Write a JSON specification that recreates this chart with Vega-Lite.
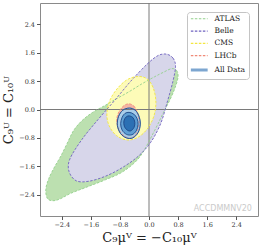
{
  "$schema": "https://vega.github.io/schema/vega-lite/v6.json",
  "width": 218,
  "height": 213,
  "autosize": {"type": "none"},
  "padding": {"left": 40, "top": 3, "right": 4, "bottom": 34},
  "background": "white",
  "config": {
    "view": {"stroke": "#8a8a8a", "strokeWidth": 1},
    "axis": {"grid": false, "domain": false, "tickColor": "#555", "tickSize": 3.5, "labelFont": "DejaVu Serif", "labelFontSize": 6.5, "labelColor": "#333", "labelPadding": 2, "labelOverlap": false, "titleFont": "DejaVu Serif", "titleFontSize": 13, "titleFontWeight": "normal", "titleColor": "#222", "titlePadding": 3},
    "legend": {"orient": "top-right", "offset": 9, "padding": 3, "fillColor": "white", "strokeColor": "#c4c4c4", "cornerRadius": 3, "labelFont": "DejaVu Serif", "labelFontSize": 7.5, "labelColor": "#222", "symbolType": "M-2.4,0H2.4", "symbolSize": 49, "symbolStrokeWidth": 1.2, "symbolOffset": 5.5, "rowPadding": 3.3, "labelOffset": 11.5}
  },
  "data": {"values": [
    {"g": "ATLAS", "i": 0, "x": 0.62, "y": 1.15},
    {"g": "ATLAS", "i": 1, "x": 0.76, "y": 1.1},
    {"g": "ATLAS", "i": 2, "x": 0.8, "y": 0.92},
    {"g": "ATLAS", "i": 3, "x": 0.72, "y": 0.62},
    {"g": "ATLAS", "i": 4, "x": 0.58, "y": 0.28},
    {"g": "ATLAS", "i": 5, "x": 0.4, "y": -0.08},
    {"g": "ATLAS", "i": 6, "x": 0.15, "y": -0.6},
    {"g": "ATLAS", "i": 7, "x": -0.25, "y": -1.33},
    {"g": "ATLAS", "i": 8, "x": -0.7, "y": -1.74},
    {"g": "ATLAS", "i": 9, "x": -1.2, "y": -1.98},
    {"g": "ATLAS", "i": 10, "x": -1.7, "y": -2.18},
    {"g": "ATLAS", "i": 11, "x": -2.15, "y": -2.36},
    {"g": "ATLAS", "i": 12, "x": -2.45, "y": -2.52},
    {"g": "ATLAS", "i": 13, "x": -2.65, "y": -2.57},
    {"g": "ATLAS", "i": 14, "x": -2.8, "y": -2.5},
    {"g": "ATLAS", "i": 15, "x": -2.84, "y": -2.25},
    {"g": "ATLAS", "i": 16, "x": -2.76, "y": -1.95},
    {"g": "ATLAS", "i": 17, "x": -2.6, "y": -1.62},
    {"g": "ATLAS", "i": 18, "x": -2.42, "y": -1.3},
    {"g": "ATLAS", "i": 19, "x": -2.25, "y": -0.95},
    {"g": "ATLAS", "i": 20, "x": -2.08, "y": -0.6},
    {"g": "ATLAS", "i": 21, "x": -1.85, "y": -0.32},
    {"g": "ATLAS", "i": 22, "x": -1.55, "y": -0.08},
    {"g": "ATLAS", "i": 23, "x": -1.2, "y": 0.12},
    {"g": "ATLAS", "i": 24, "x": -0.9, "y": 0.3},
    {"g": "ATLAS", "i": 25, "x": -0.55, "y": 0.5},
    {"g": "ATLAS", "i": 26, "x": -0.2, "y": 0.72},
    {"g": "ATLAS", "i": 27, "x": 0.15, "y": 0.92},
    {"g": "ATLAS", "i": 28, "x": 0.4, "y": 1.05},
    {"g": "Belle", "i": 0, "x": 0.48, "y": 1.56},
    {"g": "Belle", "i": 1, "x": 0.66, "y": 1.45},
    {"g": "Belle", "i": 2, "x": 0.73, "y": 1.22},
    {"g": "Belle", "i": 3, "x": 0.66, "y": 0.8},
    {"g": "Belle", "i": 4, "x": 0.5, "y": 0.2},
    {"g": "Belle", "i": 5, "x": 0.32, "y": -0.4},
    {"g": "Belle", "i": 6, "x": 0.05, "y": -0.92},
    {"g": "Belle", "i": 7, "x": -0.3, "y": -1.32},
    {"g": "Belle", "i": 8, "x": -0.74, "y": -1.64},
    {"g": "Belle", "i": 9, "x": -1.2, "y": -1.88},
    {"g": "Belle", "i": 10, "x": -1.65, "y": -2.02},
    {"g": "Belle", "i": 11, "x": -2.0, "y": -2.01},
    {"g": "Belle", "i": 12, "x": -2.2, "y": -1.75},
    {"g": "Belle", "i": 13, "x": -2.18, "y": -1.4},
    {"g": "Belle", "i": 14, "x": -1.85, "y": -0.85},
    {"g": "Belle", "i": 15, "x": -1.4, "y": -0.28},
    {"g": "Belle", "i": 16, "x": -0.95, "y": 0.25},
    {"g": "Belle", "i": 17, "x": -0.5, "y": 0.8},
    {"g": "Belle", "i": 18, "x": -0.05, "y": 1.28},
    {"g": "Belle", "i": 19, "x": 0.25, "y": 1.52},
    {"g": "CMS", "i": 0, "x": -0.3, "y": 0.93},
    {"g": "CMS", "i": 1, "x": -0.05, "y": 0.86},
    {"g": "CMS", "i": 2, "x": 0.12, "y": 0.6},
    {"g": "CMS", "i": 3, "x": 0.19, "y": 0.2},
    {"g": "CMS", "i": 4, "x": 0.13, "y": -0.2},
    {"g": "CMS", "i": 5, "x": -0.05, "y": -0.55},
    {"g": "CMS", "i": 6, "x": -0.3, "y": -0.78},
    {"g": "CMS", "i": 7, "x": -0.6, "y": -0.86},
    {"g": "CMS", "i": 8, "x": -0.9, "y": -0.73},
    {"g": "CMS", "i": 9, "x": -1.1, "y": -0.45},
    {"g": "CMS", "i": 10, "x": -1.16, "y": -0.12},
    {"g": "CMS", "i": 11, "x": -1.08, "y": 0.25},
    {"g": "CMS", "i": 12, "x": -0.88, "y": 0.58},
    {"g": "CMS", "i": 13, "x": -0.6, "y": 0.84},
    {"g": "LHCb", "i": 0, "x": -0.56, "y": 0.16},
    {"g": "LHCb", "i": 1, "x": -0.42, "y": 0.1},
    {"g": "LHCb", "i": 2, "x": -0.32, "y": -0.08},
    {"g": "LHCb", "i": 3, "x": -0.27, "y": -0.35},
    {"g": "LHCb", "i": 4, "x": -0.32, "y": -0.62},
    {"g": "LHCb", "i": 5, "x": -0.48, "y": -0.8},
    {"g": "LHCb", "i": 6, "x": -0.66, "y": -0.76},
    {"g": "LHCb", "i": 7, "x": -0.82, "y": -0.58},
    {"g": "LHCb", "i": 8, "x": -0.89, "y": -0.3},
    {"g": "LHCb", "i": 9, "x": -0.82, "y": -0.05},
    {"g": "LHCb", "i": 10, "x": -0.7, "y": 0.1},
    {"g": "All Data", "i": 0, "x": -0.54, "y": 0.04},
    {"g": "All Data", "i": 1, "x": -0.38, "y": -0.02},
    {"g": "All Data", "i": 2, "x": -0.28, "y": -0.18},
    {"g": "All Data", "i": 3, "x": -0.24, "y": -0.41},
    {"g": "All Data", "i": 4, "x": -0.3, "y": -0.65},
    {"g": "All Data", "i": 5, "x": -0.45, "y": -0.8},
    {"g": "All Data", "i": 6, "x": -0.62, "y": -0.8},
    {"g": "All Data", "i": 7, "x": -0.78, "y": -0.68},
    {"g": "All Data", "i": 8, "x": -0.87, "y": -0.45},
    {"g": "All Data", "i": 9, "x": -0.84, "y": -0.2},
    {"g": "All Data", "i": 10, "x": -0.72, "y": -0.02},
    {"g": "AD2", "i": 0, "x": -0.55, "y": -0.08},
    {"g": "AD2", "i": 1, "x": -0.42, "y": -0.13},
    {"g": "AD2", "i": 2, "x": -0.33, "y": -0.25},
    {"g": "AD2", "i": 3, "x": -0.3, "y": -0.42},
    {"g": "AD2", "i": 4, "x": -0.35, "y": -0.6},
    {"g": "AD2", "i": 5, "x": -0.47, "y": -0.71},
    {"g": "AD2", "i": 6, "x": -0.62, "y": -0.7},
    {"g": "AD2", "i": 7, "x": -0.74, "y": -0.58},
    {"g": "AD2", "i": 8, "x": -0.78, "y": -0.4},
    {"g": "AD2", "i": 9, "x": -0.74, "y": -0.22},
    {"g": "AD2", "i": 10, "x": -0.66, "y": -0.11},
    {"g": "AD3", "i": 0, "x": -0.54, "y": -0.18},
    {"g": "AD3", "i": 1, "x": -0.44, "y": -0.23},
    {"g": "AD3", "i": 2, "x": -0.39, "y": -0.36},
    {"g": "AD3", "i": 3, "x": -0.41, "y": -0.5},
    {"g": "AD3", "i": 4, "x": -0.5, "y": -0.6},
    {"g": "AD3", "i": 5, "x": -0.6, "y": -0.58},
    {"g": "AD3", "i": 6, "x": -0.68, "y": -0.47},
    {"g": "AD3", "i": 7, "x": -0.69, "y": -0.32},
    {"g": "AD3", "i": 8, "x": -0.63, "y": -0.21}
  ]},
  "layer": [
    {
      "transform": [{"filter": "datum.g === 'ATLAS'"}],
      "mark": {"type": "line", "interpolate": "cardinal-closed", "fill": "#bce0b0", "strokeWidth": 0},
      "encoding": {
        "x": {"field": "x", "type": "quantitative", "scale": {"domain": [-3, 3], "nice": false, "zero": false},
              "axis": {"values": [-2.4, -1.6, -0.8, 0, 0.8, 1.6, 2.4], "tickCount": 20, "format": ".1f", "title": "C₉μⱽ = −C₁₀μⱽ", "labelOverlap": false, "labelBound": false, "labelFlush": false}},
        "y": {"field": "y", "type": "quantitative", "scale": {"domain": [-3, 3], "nice": false, "zero": false},
              "axis": {"values": [-2.4, -1.6, -0.8, 0, 0.8, 1.6, 2.4], "tickCount": 20, "format": ".1f", "title": "C₉ᵁ = C₁₀ᵁ", "labelOverlap": false, "labelBound": false, "labelFlush": false}},
        "order": {"field": "i", "type": "quantitative"}
      }
    },
    {
      "transform": [{"filter": "datum.g === 'Belle'"}],
      "mark": {"type": "line", "interpolate": "cardinal-closed", "fill": "#d7d6ea", "strokeWidth": 0},
      "encoding": {"x": {"field": "x", "type": "quantitative"}, "y": {"field": "y", "type": "quantitative"}, "order": {"field": "i", "type": "quantitative"}}
    },
    {
      "transform": [{"filter": "datum.g === 'CMS'"}],
      "mark": {"type": "line", "interpolate": "cardinal-closed", "fill": "#fdfbb8", "strokeWidth": 0},
      "encoding": {"x": {"field": "x", "type": "quantitative"}, "y": {"field": "y", "type": "quantitative"}, "order": {"field": "i", "type": "quantitative"}}
    },
    {
      "transform": [{"filter": "datum.g === 'LHCb'"}],
      "mark": {"type": "line", "interpolate": "cardinal-closed", "fill": "#f4b5a2", "strokeWidth": 0},
      "encoding": {"x": {"field": "x", "type": "quantitative"}, "y": {"field": "y", "type": "quantitative"}, "order": {"field": "i", "type": "quantitative"}}
    },
    {
      "transform": [{"filter": "datum.g === 'All Data'"}],
      "mark": {"type": "line", "interpolate": "cardinal-closed", "fill": "#a8cde9", "strokeWidth": 0},
      "encoding": {"x": {"field": "x", "type": "quantitative"}, "y": {"field": "y", "type": "quantitative"}, "order": {"field": "i", "type": "quantitative"}}
    },
    {
      "transform": [{"filter": "datum.g === 'AD2'"}],
      "mark": {"type": "line", "interpolate": "cardinal-closed", "fill": "#5f9fd3", "strokeWidth": 0},
      "encoding": {"x": {"field": "x", "type": "quantitative"}, "y": {"field": "y", "type": "quantitative"}, "order": {"field": "i", "type": "quantitative"}}
    },
    {
      "transform": [{"filter": "datum.g === 'AD3'"}],
      "mark": {"type": "line", "interpolate": "cardinal-closed", "fill": "#2b70b4", "strokeWidth": 0},
      "encoding": {"x": {"field": "x", "type": "quantitative"}, "y": {"field": "y", "type": "quantitative"}, "order": {"field": "i", "type": "quantitative"}}
    },
    {
      "data": {"values": [{"x": 0}]},
      "mark": {"type": "rule", "color": "#7a7a7a", "strokeWidth": 1},
      "encoding": {"x": {"field": "x", "type": "quantitative"}}
    },
    {
      "data": {"values": [{"y": 0}]},
      "mark": {"type": "rule", "color": "#7a7a7a", "strokeWidth": 1},
      "encoding": {"y": {"field": "y", "type": "quantitative"}}
    },
    {
      "transform": [{"filter": "datum.g !== 'AD2' && datum.g !== 'AD3'"}],
      "mark": {"type": "line", "interpolate": "cardinal-closed", "strokeWidth": 0.9},
      "encoding": {
        "x": {"field": "x", "type": "quantitative"},
        "y": {"field": "y", "type": "quantitative"},
        "order": {"field": "i", "type": "quantitative"},
        "color": {"field": "g", "type": "nominal",
                  "scale": {"domain": ["ATLAS", "Belle", "CMS", "LHCb", "All Data"], "range": ["#93d08c", "#6f62c0", "#f3e640", "#f08a78", "#7da6d0"]},
                  "legend": {"title": null, "encode": {"symbols": {"update": {"strokeWidth": {"signal": "datum.value === 'All Data' ? 3 : 1.2"}}}}}},
        "strokeDash": {"field": "g", "type": "nominal",
                       "scale": {"domain": ["ATLAS", "Belle", "CMS", "LHCb", "All Data"], "range": [[2.5, 1.5], [2.5, 1.5], [2.5, 1.5], [2.5, 1.5], [1, 0]]},
                       "legend": {"title": null}}
      }
    },
    {
      "transform": [{"filter": "datum.g === 'All Data' || datum.g === 'AD2' || datum.g === 'AD3'"}],
      "mark": {"type": "line", "interpolate": "cardinal-closed", "stroke": "#1d4686", "strokeWidth": 0.9},
      "encoding": {
        "x": {"field": "x", "type": "quantitative"},
        "y": {"field": "y", "type": "quantitative"},
        "order": {"field": "i", "type": "quantitative"},
        "detail": {"field": "g", "type": "nominal"}
      }
    },
    {
      "data": {"values": [{"x": 2.83, "y": -2.87, "t": "ACCDMMNV20"}]},
      "mark": {"type": "text", "align": "right", "baseline": "alphabetic", "font": "DejaVu Sans", "fontSize": 8, "color": "#cacaca"},
      "encoding": {"x": {"field": "x", "type": "quantitative"}, "y": {"field": "y", "type": "quantitative"}, "text": {"field": "t", "type": "nominal"}}
    }
  ]
}
